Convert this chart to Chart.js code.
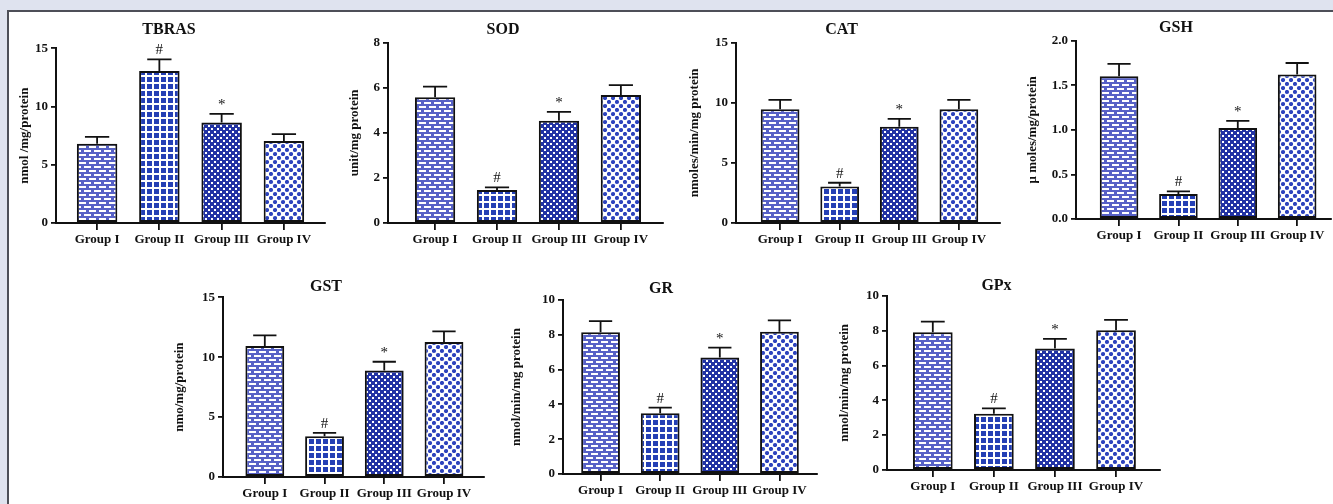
<!DOCTYPE html>
<html>
<head>
<meta charset="utf-8">
<script src="https://cdn.jsdelivr.net/npm/chart.js@4.4.1/dist/chart.umd.min.js"></script>
<style>
  html, body { margin: 0; padding: 0; }
  body { width: 1333px; height: 504px; background: #dfe3ef; overflow: hidden; position: relative; }
  #panel { position: absolute; left: 7px; top: 10px; right: 0; bottom: 0; background: #fff;
           border-left: 2px solid #4d4f58; border-top: 2px solid #4d4f58; }
  canvas { position: absolute; }
</style>
</head>
<body>
<div id="panel"></div>
<canvas id="tbras"></canvas>
<canvas id="sod"></canvas>
<canvas id="cat"></canvas>
<canvas id="gsh"></canvas>
<canvas id="gst"></canvas>
<canvas id="gr"></canvas>
<canvas id="gpx"></canvas>
<script>
const groups = ['Group I', 'Group II', 'Group III', 'Group IV'];
const marks = ['', '#', '*', ''];

// mean and upper error (SEM) for each assay
const tbrasMean = [6.8, 13.05, 8.62, 7.03];
const tbrasErr  = [0.6, 1.0, 0.75, 0.6];
const tbrasTicks = [0, 5, 10, 15];

const sodMean = [5.58, 1.46, 4.54, 5.68];
const sodErr  = [0.47, 0.12, 0.39, 0.44];
const sodTicks = [0, 2, 4, 6, 8];

const catMean = [9.47, 3.04, 8.0, 9.47];
const catErr  = [0.77, 0.31, 0.66, 0.77];
const catTicks = [0, 5, 10, 15];

const gshMean = [1.60, 0.28, 1.02, 1.62];
const gshErr  = [0.14, 0.03, 0.08, 0.13];
const gshTicks = [0, 0.5, 1.0, 1.5, 2.0];

const gstMean = [10.93, 3.40, 8.89, 11.26];
const gstErr  = [0.89, 0.28, 0.73, 0.90];
const gstTicks = [0, 5, 10, 15];

const grMean = [8.14, 3.49, 6.70, 8.18];
const grErr  = [0.65, 0.32, 0.56, 0.65];
const grTicks = [0, 2, 4, 6, 8, 10];

const gpxMean = [7.90, 3.23, 6.97, 8.02];
const gpxErr  = [0.61, 0.30, 0.55, 0.59];
const gpxTicks = [0, 2, 4, 6, 8, 10];

Chart.defaults.font.family = "'Liberation Serif', 'Times New Roman', serif";
Chart.defaults.color = '#111';

// hatch fills, one per group
const scratch = document.createElement('canvas').getContext('2d');
function tile(w, h, draw) {
  const c = document.createElement('canvas');
  c.width = w; c.height = h;
  draw(c.getContext('2d'));
  return scratch.createPattern(c, 'repeat');
}
const fills = [
  tile(10, 8, g => {           // bricks
    g.fillStyle = '#5761c6'; g.fillRect(0, 0, 10, 8);
    g.fillStyle = '#fff';
    g.fillRect(1, 2, 7, 2);
    g.fillRect(6, 6, 4, 2); g.fillRect(0, 6, 3, 2);
  }),
  tile(7, 7, g => {            // squares
    g.fillStyle = '#fff'; g.fillRect(0, 0, 7, 7);
    g.fillStyle = '#2540b5'; g.fillRect(1, 1, 5, 5);
  }),
  tile(6, 6, g => {            // dense, white dots
    g.fillStyle = '#2233a4'; g.fillRect(0, 0, 6, 6);
    g.fillStyle = '#fff';
    g.fillRect(0, 0, 2, 2); g.fillRect(3, 3, 2, 2);
  }),
  tile(8, 8, g => {            // sparse blue dots
    g.fillStyle = '#fff'; g.fillRect(0, 0, 8, 8);
    g.fillStyle = '#2d43bd';
    g.beginPath(); g.arc(2, 2, 2.1, 0, Math.PI * 2); g.fill();
    g.beginPath(); g.arc(6, 6, 2.1, 0, Math.PI * 2); g.fill();
  })
];

const errorBars = {
  id: 'errorBars',
  afterDatasetsDraw(chart) {
    const ctx = chart.ctx;
    const ys = chart.scales.y;
    const ds = chart.data.datasets[0];
    const meta = chart.getDatasetMeta(0);
    ctx.save();
    ctx.strokeStyle = '#111';
    ctx.lineWidth = 1.8;
    ctx.fillStyle = '#111';
    ctx.font = "15px 'Liberation Serif'";
    ctx.textAlign = 'center';
    ctx.textBaseline = 'alphabetic';
    meta.data.forEach((bar, i) => {
      const top = ys.getPixelForValue(ds.data[i].y + ds.errors[i]);
      const half = bar.width * 0.3;
      ctx.beginPath();
      ctx.moveTo(bar.x, bar.y);
      ctx.lineTo(bar.x, top);
      ctx.moveTo(bar.x - half, top);
      ctx.lineTo(bar.x + half, top);
      ctx.stroke();
      if (ds.marks[i]) ctx.fillText(ds.marks[i], bar.x, top - 5);
    });
    ctx.restore();
  }
};

function drawPanel(p) {
  const cv = document.getElementById(p.id);
  cv.width = p.box[2];
  cv.height = p.box[3];
  cv.style.left = p.box[0] + 'px';
  cv.style.top = p.box[1] + 'px';
  const axisColor = '#111';
  new Chart(cv, {
    type: 'bar',
    data: {
      datasets: [{
        data: p.mean.map((v, i) => ({ x: i, y: v })),
        errors: p.err,
        marks: marks,
        backgroundColor: fills,
        borderColor: '#111',
        borderWidth: 2,
        borderSkipped: false,
        categoryPercentage: 1,
        barPercentage: 0.65
      }]
    },
    options: {
      responsive: false,
      animation: false,
      events: [],
      layout: { padding: { left: 0, right: p.right, top: 0, bottom: 0 } },
      scales: {
        x: {
          type: 'linear',
          min: p.xr[0],
          max: p.xr[1],
          offset: false,
          afterBuildTicks: s => { s.ticks = groups.map((g, i) => ({ value: i })); },
          afterFit: s => { s.height = 30; },
          grid: { display: true, offset: false, drawOnChartArea: false, drawTicks: true,
                  tickLength: 7, color: axisColor, tickColor: axisColor, lineWidth: 1.8, tickWidth: 1.8 },
          border: { display: true, color: axisColor, width: 2 },
          ticks: {
            autoSkip: false, maxRotation: 0, minRotation: 0, padding: 2,
            font: { size: 13, weight: 'bold' },
            callback: v => groups[v]
          }
        },
        y: {
          min: 0,
          max: p.ticks[p.ticks.length - 1],
          afterBuildTicks: s => { s.ticks = p.ticks.map(v => ({ value: v })); },
          afterFit: s => { s.width = p.yw; },
          grid: { display: true, drawOnChartArea: false, drawTicks: true,
                  tickLength: 5, color: axisColor, tickColor: axisColor, lineWidth: 1.8, tickWidth: 1.8 },
          border: { display: true, color: axisColor, width: 2 },
          ticks: {
            padding: 3,
            font: { size: 13, weight: 'bold' },
            callback: v => v.toFixed(p.dec)
          },
          title: {
            display: true, text: p.unit, padding: { top: 4, bottom: 0 },
            font: { size: 13, weight: 'bold' }
          }
        }
      },
      plugins: {
        legend: { display: false },
        tooltip: { enabled: false },
        title: {
          display: true, text: p.title, color: '#111',
          font: { size: 16, weight: 'bold' },
          padding: { top: 0, bottom: p.gap }
        }
      }
    },
    plugins: [errorBars]
  });
}

[
  { id: 'tbras', title: 'TBRAS', unit: 'nmol /mg/protein', mean: tbrasMean, err: tbrasErr, ticks: tbrasTicks, dec: 0,
    box: [13, 20, 327, 233], yw: 43, gap: 9.1, right: 15, xr: [-0.66, 3.66] },
  { id: 'sod', title: 'SOD', unit: 'unit/mg protein', mean: sodMean, err: sodErr, ticks: sodTicks, dec: 0,
    box: [343, 20, 350, 233], yw: 45, gap: 3.5, right: 30, xr: [-0.76, 3.68] },
  { id: 'cat', title: 'CAT', unit: 'nmoles/min/mg protein', mean: catMean, err: catErr, ticks: catTicks, dec: 0,
    box: [683, 20, 350, 233], yw: 53, gap: 3.5, right: 33, xr: [-0.74, 3.69] },
  { id: 'gsh', title: 'GSH', unit: 'μ moles/mg/protein', mean: gshMean, err: gshErr, ticks: gshTicks, dec: 1,
    box: [1021, 18, 352, 231], yw: 55, gap: 3.5, right: 42, xr: [-0.725, 3.57] },
  { id: 'gst', title: 'GST', unit: 'nmo/mg/protein', mean: gstMean, err: gstErr, ticks: gstTicks, dec: 0,
    box: [168, 277, 354, 230], yw: 55, gap: 1.1, right: 38, xr: [-0.70, 3.67] },
  { id: 'gr', title: 'GR', unit: 'nmol/min/mg protein', mean: grMean, err: grErr, ticks: grTicks, dec: 0,
    box: [505, 279, 344, 225], yw: 58, gap: 1.8, right: 32, xr: [-0.63, 3.63] },
  { id: 'gpx', title: 'GPx', unit: 'nmol/min/mg protein', mean: gpxMean, err: gpxErr, ticks: gpxTicks, dec: 0,
    box: [833, 276, 372, 224], yw: 54, gap: 0.5, right: 45, xr: [-0.75, 3.72] }
].forEach(drawPanel);
</script>
</body>
</html>
